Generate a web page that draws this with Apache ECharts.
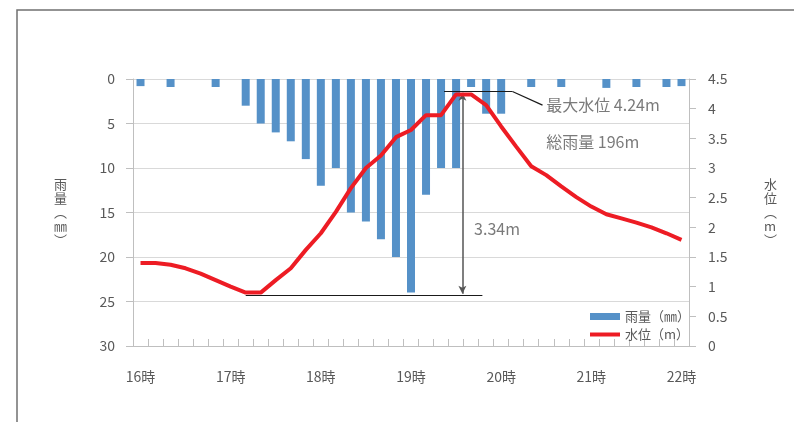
<!DOCTYPE html>
<html>
<head>
<meta charset="utf-8">
<script src="https://cdn.jsdelivr.net/npm/echarts@6/dist/echarts.min.js"></script>
<style>
  html, body { margin: 0; padding: 0; background: #ffffff; }
  #main { width: 794px; height: 422px; }
</style>
</head>
<body>
<div id="main"></div>
<script>
// 10分ごとの時刻
const categories = [
  "16:00", "16:10", "16:20", "16:30", "16:40", "16:50",
  "17:00", "17:10", "17:20", "17:30", "17:40", "17:50",
  "18:00", "18:10", "18:20", "18:30", "18:40", "18:50",
  "19:00", "19:10", "19:20", "19:30", "19:40", "19:50",
  "20:00", "20:10", "20:20", "20:30", "20:40", "20:50",
  "21:00", "21:10", "21:20", "21:30", "21:40", "21:50",
  "22:00"
];
// 雨量 (mm)
const rain = [
  0.8, 0, 0.9, 0, 0, 0.9, 0, 3, 5, 6, 7, 9, 12,
  10, 15, 16, 18, 20, 24, 13, 10, 10, 0.9, 3.9, 3.9,
  0, 0.9, 0, 0.9, 0, 0, 1, 0, 0.9, 0, 0.9, 0.8
];
// 水位 (m)
const level = [
  1.40, 1.40, 1.37, 1.31, 1.22, 1.11, 1.00, 0.90, 0.90, 1.11, 1.31, 1.62, 1.90,
  2.26, 2.66, 3.00, 3.21, 3.52, 3.64, 3.89, 3.89, 4.24, 4.24, 4.06, 3.70,
  3.36, 3.03, 2.88, 2.69, 2.51, 2.35, 2.22, 2.15, 2.08, 2.00, 1.90, 1.79
];
const rainTicks = [0, 30, 5];
const levelTicks = [0, 4.5, 0.5];

// 注記 (カテゴリ番号, 水位)
const minLine = [[7, 0.86], [22.75, 0.86]];
const maxLine = [[20.2, 4.29], [24.75, 4.29]];
const leaderLine = [[24.75, 4.29], [26.75, 4.06]];
const riseArrow = [[21.42, 4.27], [21.42, 0.88]];
const notes = [
  { name: "最大水位 4.24m", value: [27, 4.06] },
  { name: "総雨量 196m", value: [27, 3.44] },
  { name: "3.34m", value: [22.2, 1.97] }
];

const font = "'Noto Sans CJK JP', 'Noto Sans', sans-serif";
const textGray = "#595959";
const axisGray = "#bfbfbf";

let myChart = echarts.init(document.getElementById("main"));

let option = {
  animation: false,
  textStyle: { fontFamily: font },
  grid: { left: 133, right: 105, top: 79, bottom: 76 },
  legend: {
    orient: "vertical",
    left: 583,
    top: 305,
    itemWidth: 30,
    itemHeight: 7,
    itemGap: 5,
    textStyle: { color: textGray, fontSize: 13, fontFamily: font },
    data: [
      { name: "雨量（㎜）", icon: "rect" },
      { name: "水位（m）", itemStyle: { opacity: 0 }, lineStyle: { width: 4 } }
    ]
  },
  xAxis: [
    {
      type: "category",
      data: categories,
      position: "bottom",
      axisLine: { show: false },
      axisTick: { show: false },
      axisLabel: {
        interval: 5,
        margin: 24,
        color: textGray,
        fontSize: 14,
        fontFamily: font,
        formatter: function (v) {
          return parseInt(v.split(":")[0], 10) + "時";
        }
      }
    },
    {
      type: "category",
      data: categories,
      position: "top",
      axisLine: { show: true, lineStyle: { color: axisGray } },
      axisTick: { show: true, interval: 0, length: 7, lineStyle: { color: axisGray } },
      axisLabel: { show: false }
    },
    {
      type: "value",
      min: -0.5,
      max: categories.length - 0.5,
      show: false
    }
  ],
  yAxis: [
    {
      type: "value",
      inverse: true,
      min: rainTicks[0],
      max: rainTicks[1],
      interval: rainTicks[2],
      name: "雨\n量\n︵\n㎜\n︶",
      nameLocation: "middle",
      nameRotate: 0,
      nameGap: 66,
      nameTextStyle: { color: textGray, fontSize: 13, lineHeight: 14, fontFamily: font },
      axisLine: { show: true, onZero: false, lineStyle: { color: axisGray } },
      axisTick: { show: true, length: 7, lineStyle: { color: axisGray } },
      axisLabel: { color: textGray, fontSize: 14, margin: 18, fontFamily: font },
      splitLine: { lineStyle: { color: "#d9d9d9" } }
    },
    {
      type: "value",
      min: levelTicks[0],
      max: levelTicks[1],
      interval: levelTicks[2],
      name: "水\n位\n︵\nm\n︶",
      nameLocation: "middle",
      nameRotate: 0,
      nameGap: 75,
      nameTextStyle: { color: textGray, fontSize: 13, lineHeight: 14, fontFamily: font },
      axisLine: { show: true, onZero: false, lineStyle: { color: axisGray } },
      axisTick: { show: true, length: 7, lineStyle: { color: axisGray } },
      axisLabel: { color: textGray, fontSize: 14, margin: 19, fontFamily: font },
      splitLine: { show: false }
    }
  ],
  series: [
    {
      name: "雨量（㎜）",
      type: "bar",
      xAxisIndex: 0,
      yAxisIndex: 0,
      barWidth: 8,
      itemStyle: { color: "#5591c8" },
      data: rain
    },
    {
      name: "水位（m）",
      type: "line",
      xAxisIndex: 0,
      yAxisIndex: 1,
      symbol: "none",
      z: 5,
      lineStyle: { color: "#ed1c24", width: 4 },
      itemStyle: { color: "#ed1c24" },
      data: level
    },
    {
      name: "注記",
      type: "scatter",
      xAxisIndex: 2,
      yAxisIndex: 1,
      symbolSize: 0,
      silent: true,
      z: 6,
      label: {
        show: true,
        position: "right",
        distance: 0,
        formatter: "{b}",
        color: textGray,
        fontSize: 16,
        fontFamily: font
      },
      data: notes,
      markLine: {
        silent: true,
        symbol: "none",
        label: { show: false },
        lineStyle: { color: "#1a1a1a", width: 1.2, type: "solid" },
        data: [
          [{ coord: minLine[0] }, { coord: minLine[1] }],
          [{ coord: maxLine[0] }, { coord: maxLine[1] }],
          [{ coord: leaderLine[0] }, { coord: leaderLine[1] }],
          [
            { coord: riseArrow[0], symbol: "arrow", symbolSize: [6, 8] },
            {
              coord: riseArrow[1],
              symbol: "arrow",
              symbolSize: [6, 8],
              lineStyle: { color: "#555555", width: 1.5 }
            }
          ]
        ]
      }
    }
  ],
  graphic: [
    {
      type: "polyline",
      silent: true,
      shape: { points: [[17, 422], [17, 10], [794, 10]] },
      style: { stroke: "#707070", lineWidth: 1.5, fill: null }
    }
  ]
};

myChart.setOption(option);
</script>
</body>
</html>
